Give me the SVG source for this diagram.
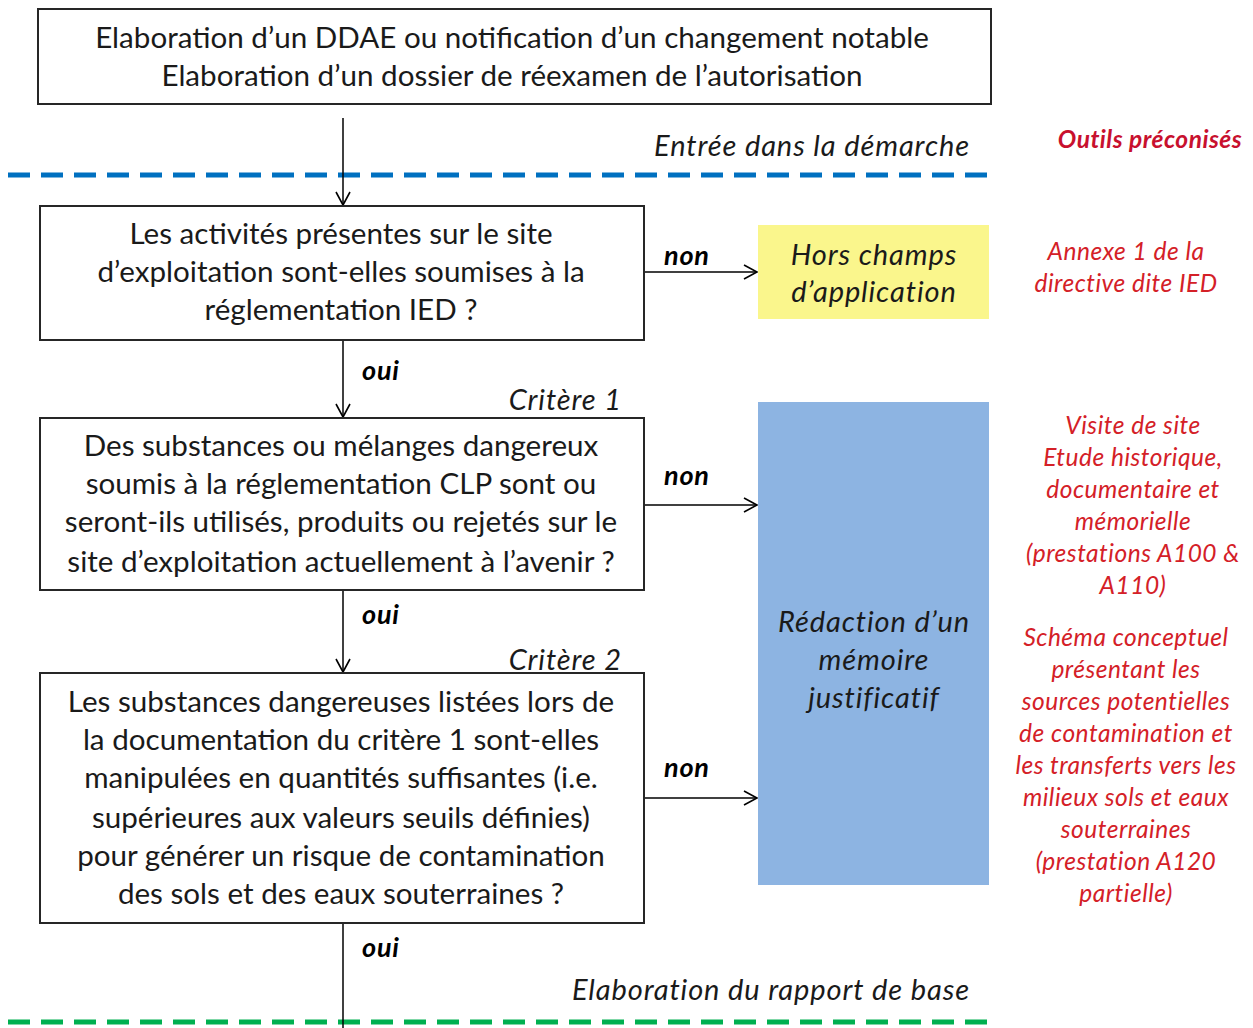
<svg xmlns="http://www.w3.org/2000/svg" width="1253" height="1028" viewBox="0 0 1253 1028">
<defs>
<marker id="arr" markerWidth="16" markerHeight="16" refX="14" refY="8" orient="auto" markerUnits="userSpaceOnUse">
<path d="M1,1 L14,8 L1,15" fill="none" stroke="#000" stroke-width="1.6"/>
</marker>
<style>
.box{fill:#fff;stroke:#262626;stroke-width:2}
.t{font-family:Lato,"Liberation Sans",sans-serif;font-size:29.6px;fill:#1a1a1a;text-anchor:middle}
.it{font-family:Lato,"Liberation Sans",sans-serif;font-size:29px;letter-spacing:0.9px;font-style:italic;fill:#1a1a1a}
.lbl{font-family:Lato,"Liberation Sans",sans-serif;font-size:27px;letter-spacing:0.8px;font-style:italic;font-weight:bold;fill:#000}
.red{font-family:Lato,"Liberation Sans",sans-serif;font-size:24.5px;letter-spacing:0.5px;font-style:italic;fill:#D42027;text-anchor:middle}
.ln{stroke:#000;stroke-width:1.5;fill:none}
</style>
</defs>
<rect width="1253" height="1028" fill="#fff"/>

<g id="separators">
<line x1="8" y1="175" x2="990" y2="175" stroke="#0070C0" stroke-width="5" stroke-dasharray="22,11"/>
<text class="it" x="970" y="156" text-anchor="end">Entrée dans la démarche</text>
<line x1="8" y1="1022" x2="990" y2="1022" stroke="#00B050" stroke-width="5" stroke-dasharray="22,11"/>
<text class="it" x="970" y="1000" text-anchor="end">Elaboration du rapport de base</text>
</g>

<g id="connectors">
<line class="ln" x1="343" y1="118" x2="343" y2="205" marker-end="url(#arr)"/>
<line class="ln" x1="343" y1="341" x2="343" y2="417" marker-end="url(#arr)"/>
<line class="ln" x1="343" y1="591" x2="343" y2="672" marker-end="url(#arr)"/>
<line class="ln" x1="343" y1="924" x2="343" y2="1028"/>
<line class="ln" x1="645" y1="272" x2="757" y2="272" marker-end="url(#arr)"/>
<line class="ln" x1="645" y1="505" x2="757" y2="505" marker-end="url(#arr)"/>
<line class="ln" x1="645" y1="798" x2="757" y2="798" marker-end="url(#arr)"/>
<text class="lbl" x="664" y="265">non</text>
<text class="lbl" x="664" y="485">non</text>
<text class="lbl" x="664" y="777">non</text>
<text class="lbl" x="362" y="380">oui</text>
<text class="lbl" x="362" y="624">oui</text>
<text class="lbl" x="362" y="957">oui</text>
<text class="it" x="622" y="410" text-anchor="end">Critère 1</text>
<text class="it" x="622" y="670" text-anchor="end">Critère 2</text>
</g>

<g id="n-top">
<rect class="box" x="38" y="9" width="953" height="95"/>
<text class="t" x="512" y="48">Elaboration d’un DDAE ou notification d’un changement notable</text>
<text class="t" x="512" y="86">Elaboration d’un dossier de réexamen de l’autorisation</text>
</g>

<g id="n-ied">
<rect class="box" x="40" y="206" width="604" height="134"/>
<text class="t" x="341" y="244">Les activités présentes sur le site</text>
<text class="t" x="341" y="282">d’exploitation sont-elles soumises à la</text>
<text class="t" x="341" y="320">réglementation IED ?</text>
</g>

<g id="n-hors">
<rect x="758" y="225" width="231" height="94" fill="#FAF68C"/>
<text class="it" x="874" y="265" text-anchor="middle">Hors champs</text>
<text class="it" x="874" y="302" text-anchor="middle">d’application</text>
</g>

<g id="n-crit1">
<rect class="box" x="40" y="418" width="604" height="172"/>
<text class="t" x="341" y="456">Des substances ou mélanges dangereux</text>
<text class="t" x="341" y="494">soumis à la réglementation CLP sont ou</text>
<text class="t" x="341" y="532">seront-ils utilisés, produits ou rejetés sur le</text>
<text class="t" x="341" y="572">site d’exploitation actuellement à l’avenir ?</text>
</g>

<g id="n-crit2">
<rect class="box" x="40" y="673" width="604" height="250"/>
<text class="t" x="341" y="712">Les substances dangereuses listées lors de</text>
<text class="t" x="341" y="750">la documentation du critère 1 sont-elles</text>
<text class="t" x="341" y="788">manipulées en quantités suffisantes (i.e.</text>
<text class="t" x="341" y="828">supérieures aux valeurs seuils définies)</text>
<text class="t" x="341" y="866">pour générer un risque de contamination</text>
<text class="t" x="341" y="904">des sols et des eaux souterraines ?</text>
</g>

<g id="n-memoire">
<rect x="758" y="402" width="231" height="483" fill="#8DB4E2"/>
<text class="it" x="874" y="632" text-anchor="middle">Rédaction d’un</text>
<text class="it" x="874" y="670" text-anchor="middle">mémoire</text>
<text class="it" x="874" y="708" text-anchor="middle">justificatif</text>
</g>

<g id="outils">
<text class="red" x="1150" y="148" style="font-weight:bold;fill:#C8102E">Outils préconisés</text>
<text class="red" x="1126" y="260">Annexe 1 de la</text>
<text class="red" x="1126" y="292">directive dite IED</text>
<text class="red" x="1133" y="434">Visite de site</text>
<text class="red" x="1133" y="466">Etude historique,</text>
<text class="red" x="1133" y="498">documentaire et</text>
<text class="red" x="1133" y="530">mémorielle</text>
<text class="red" x="1133" y="562">(prestations A100 &amp;</text>
<text class="red" x="1133" y="594">A110)</text>
<text class="red" x="1126" y="646">Schéma conceptuel</text>
<text class="red" x="1126" y="678">présentant les</text>
<text class="red" x="1126" y="710">sources potentielles</text>
<text class="red" x="1126" y="742">de contamination et</text>
<text class="red" x="1126" y="774">les transferts vers les</text>
<text class="red" x="1126" y="806">milieux sols et eaux</text>
<text class="red" x="1126" y="838">souterraines</text>
<text class="red" x="1126" y="870">(prestation A120</text>
<text class="red" x="1126" y="902">partielle)</text>
</g>
</svg>
